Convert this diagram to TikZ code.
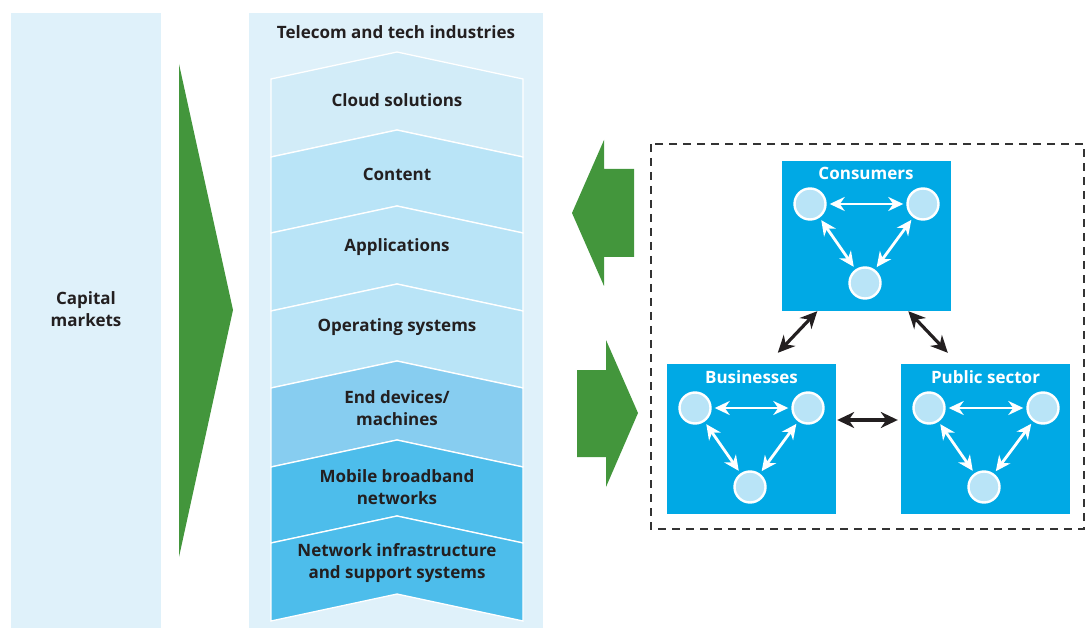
\documentclass[tikz,border=0pt]{standalone}
\usepackage{fontspec}
\setmainfont{Open Sans}
\usepackage{tikz}
\usetikzlibrary{calc, positioning, arrows.meta}
\definecolor{panelblue}{HTML}{DFF1FA}
\definecolor{cloudblue}{HTML}{D2ECF8}
\definecolor{layerblue}{HTML}{B9E4F7}
\definecolor{devblue}{HTML}{87CDF0}
\definecolor{netblue}{HTML}{4DBDEB}
\definecolor{boxblue}{HTML}{00A9E5}
\definecolor{arrowgreen}{HTML}{43963C}
\definecolor{inkgray}{HTML}{231F20}
\tikzstyle{lbl}=[font=\fontsize{17}{22}\selectfont\bfseries, text=inkgray, align=center, inner sep=0pt]
\tikzstyle{ttl}=[font=\fontsize{17}{22}\selectfont\bfseries, text=white, inner sep=0pt]
\tikzstyle{grp}=[fill=boxblue, minimum width=169pt, minimum height=150pt, inner sep=0pt]
\tikzstyle{actor}=[circle, fill=layerblue, draw=white, line width=2.4pt, minimum size=31pt, inner sep=0pt]
\tikzstyle{link}=[white, line width=2.8pt, {Stealth[length=15pt, width=14pt]}-{Stealth[length=15pt, width=14pt]}, shorten <=3pt, shorten >=3pt]
\tikzstyle{tie}=[inkgray, line width=3.2pt, {Stealth[length=17pt, width=16pt]}-{Stealth[length=17pt, width=16pt]}]
\tikzset{>=Stealth}

\begin{document}
\begin{tikzpicture}[x=1pt, y=-1pt]
\useasboundingbox (0,0) rectangle (1087,628);
% the two panels
\fill[panelblue] (11,13) rectangle (161,628);
\fill[panelblue] (249,13) rectangle (543,628);
\node[lbl] (cap) at (86,309) {Capital\\markets};
\node[lbl] (tel) at (396,32) {Telecom and tech industries};
% the big triangle
\fill[arrowgreen] (179,64) -- (233,310) -- (179,557) -- cycle;
% the layers
\foreach \ya/\yb/\col in {79/157/cloudblue, 157/233/layerblue, 233/311/layerblue, 311/388/layerblue, 388/467/devblue, 467/543/netblue, 543/621/netblue}
  \filldraw[fill=\col, draw=white, line width=1.3pt] (271,\ya) -- (397,\ya-27) -- (523,\ya) -- (523,\yb) -- (397,\yb-27) -- (271,\yb) -- cycle;
\node[lbl] (L1) at (397,100) {Cloud solutions};
\node[lbl] (L2) at (397,174) {Content};
\node[lbl] (L3) at (397,247) {Applications};
\node[lbl] (L4) at (397,327) {Operating systems};
\node[lbl] (L5) at (397,408) {End devices/\\machines};
\node[lbl] (L6) at (397,487) {Mobile broadband\\networks};
\node[lbl] (L7) at (397,563) {Network infrastructure\\and support systems};
% the green arrows
\fill[arrowgreen] (634,169) -- (604,169) -- (604,140) -- (572,213) -- (604,286) -- (604,257) -- (634,257) -- cycle;
\fill[arrowgreen] (577,370) -- (606,370) -- (606,340) -- (638,413) -- (606,487) -- (606,457) -- (577,457) -- cycle;
% the dashed frame
\draw[black!80, line width=1.1pt, dash pattern=on 8pt off 6pt] (651,144) rectangle (1084,529);
% the groups
\node[grp] (cons) at (866,236) {};
\node[grp] (bus) at (751.5,439) {};
\node[grp] (pub) at (985.5,439) {};
\node[ttl] (consT) at (866,173) {Consumers};
\node[ttl] (busT) at (751.5,377) {Businesses};
\node[ttl] (pubT) at (985.5,377) {Public sector};
% the actors
\node[actor] (C1) at (810,204) {};
\node[actor] (C2) at (923,204) {};
\node[actor] (C3) at (865,283) {};
\node[actor] (B1) at (695,408) {};
\node[actor] (B2) at (808,408) {};
\node[actor] (B3) at (750,487) {};
\node[actor] (P1) at (929,408) {};
\node[actor] (P2) at (1043,408) {};
\node[actor] (P3) at (984,487) {};
% the links inside
\draw[link] (C1) -- (C2);
\draw[link] (C1) -- (C3);
\draw[link] (C2) -- (C3);
\draw[link] (B1) -- (B2);
\draw[link] (B1) -- (B3);
\draw[link] (B2) -- (B3);
\draw[link] (P1) -- (P2);
\draw[link] (P1) -- (P3);
\draw[link] (P2) -- (P3);
% the links between groups
\draw[tie] ([xshift=36pt]cons.south west) -- ([xshift=111pt, yshift=11pt]bus.north west);
\draw[tie] ([xshift=127pt]cons.south west) -- ([xshift=47pt, yshift=11pt]pub.north west);
\draw[tie] ([yshift=19pt, xshift=1pt]bus.east) -- ([yshift=19pt, xshift=-3pt]pub.west);
\end{tikzpicture}
\end{document}
